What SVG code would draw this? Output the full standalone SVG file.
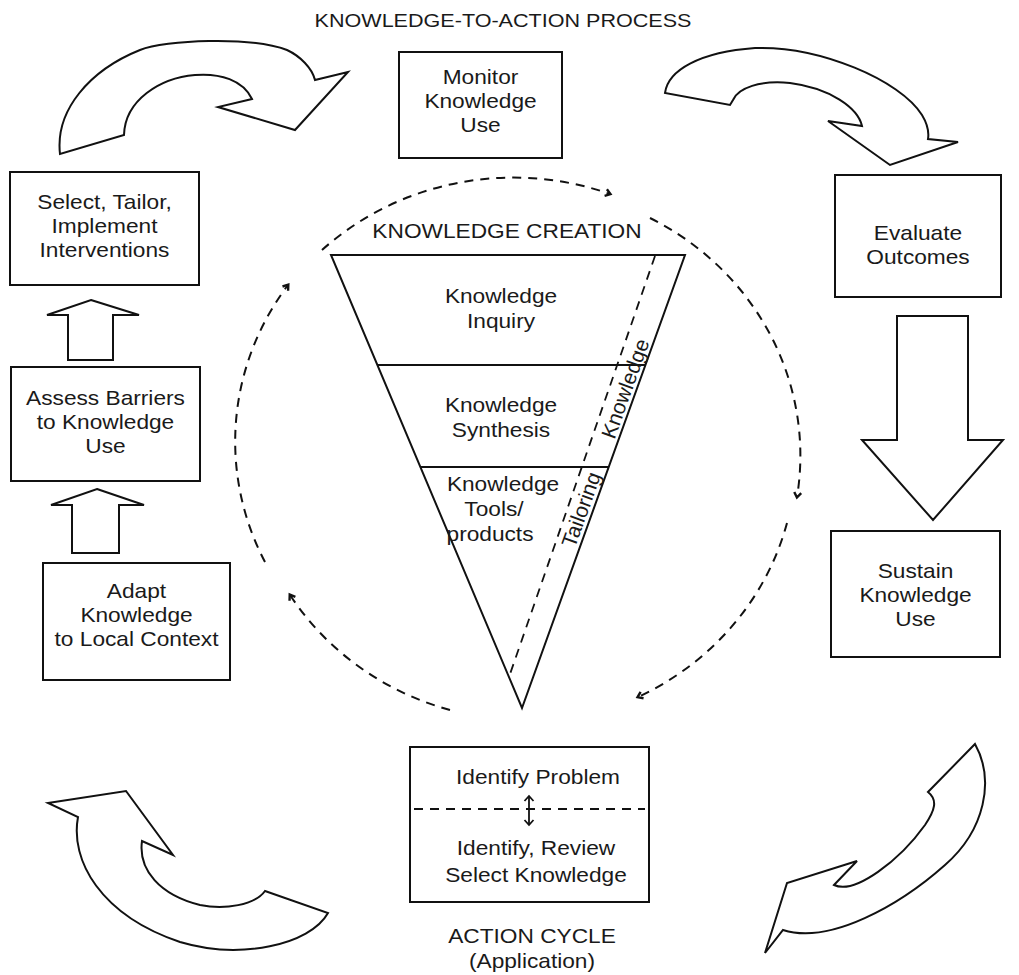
<svg xmlns="http://www.w3.org/2000/svg" width="1019" height="975" viewBox="0 0 1019 975">
<style>
.box{fill:#fff;stroke:#111;stroke-width:2}
.blk{fill:#fff;stroke:#111;stroke-width:2;stroke-linejoin:miter}
.t{font-family:"Liberation Sans",Arial,sans-serif;font-size:20px;fill:#1a1a1a;text-anchor:middle}
.dash{fill:none;stroke:#111;stroke-width:2;stroke-dasharray:9 7}
.ln{fill:none;stroke:#111;stroke-width:2}
</style>
<defs>
<marker id="ah" markerWidth="10" markerHeight="10" refX="6" refY="5" orient="auto" markerUnits="userSpaceOnUse">
<path d="M1.5,1.5 L6.5,5 L1.5,8.5" fill="none" stroke="#111" stroke-width="2.4"/>
</marker>
<marker id="dh" markerWidth="12" markerHeight="12" refX="6" refY="6" orient="auto-start-reverse" markerUnits="userSpaceOnUse">
<path d="M1,1.5 L6,6 L1,10.5" fill="none" stroke="#111" stroke-width="1.8"/>
</marker>
</defs>
<rect width="1019" height="975" fill="#fff"/>

<g transform="translate(503 0) scale(1.135 1)"><text class="t" y="27" style="font-size:19px">KNOWLEDGE-TO-ACTION PROCESS</text></g>

<g id="connectors">
<path class="blk" d="M 60 154 C 55 110 90 70 140 50 C 165 40 250 36 287 50 C 300 56 312 68 315 80 L 348 72 L 295 130 L 218 107 L 252 99 C 243 80 220 73 195 75 C 160 78 125 100 124 135 Z"/>
<path class="blk" d="M 665 93 C 668 70 700 52 755 48 C 820 46 900 80 922 115 C 928 125 929 133 928 139 L 958 142 L 890 165 L 828 121 L 862 126 C 858 108 830 88 790 83 C 760 80 738 88 733 100 L 730 105 Z"/>
<path class="blk" d="M 78 817 C 70 860 100 915 180 942 C 240 960 310 945 328 913 L 265 891 C 255 905 225 910 200 905 C 160 895 138 870 142 841 L 173 855 L 126 791 L 48 803 Z"/>
<path class="blk" d="M 975 744 C 995 780 985 830 945 865 C 900 905 830 945 783 930 L 765 953 L 787 883 L 857 861 L 834 885 C 855 895 900 860 925 825 C 935 810 938 800 928 792 Z"/>
<polygon class="blk" points="897,316 968,316 968,440 1003,440 933,520 862,440 897,440"/>
<polygon class="blk" points="91,300 139,315 113,315 113,360 68,360 68,315 47,315"/>
<polygon class="blk" points="97,489 144,505 119,505 119,553 72,553 72,505 51,505"/>
<path class="dash" d="M 322 250 A 280 268 0 0 1 610 194" marker-end="url(#ah)"/>
<path class="dash" d="M 650 218 A 280 268 0 0 1 797 497" marker-end="url(#ah)"/>
<path class="dash" d="M 787 523 A 280 268 0 0 1 638 697" marker-end="url(#ah)"/>
<path class="dash" d="M 450 710 A 280 268 0 0 1 290 595" marker-end="url(#ah)"/>
<path class="dash" d="M 265 562 A 280 268 0 0 1 288 285" marker-end="url(#ah)"/>
</g>

<g id="monitor">
<rect class="box" x="399" y="52" width="163" height="106"/>
<g transform="translate(480.5 0) scale(1.135 1)"><text class="t" y="84">Monitor</text><text class="t" y="108">Knowledge</text><text class="t" y="132">Use</text></g>
</g>

<g id="evaluate">
<rect class="box" x="835" y="175" width="166" height="122"/>
<g transform="translate(918 0) scale(1.135 1)"><text class="t" y="240">Evaluate</text><text class="t" y="264">Outcomes</text></g>
</g>

<g id="sustain">
<rect class="box" x="831" y="531" width="169" height="126"/>
<g transform="translate(915.5 0) scale(1.135 1)"><text class="t" y="578">Sustain</text><text class="t" y="602">Knowledge</text><text class="t" y="626">Use</text></g>
</g>

<g id="select">
<rect class="box" x="10" y="172" width="189" height="113"/>
<g transform="translate(104.5 0) scale(1.135 1)"><text class="t" y="209">Select, Tailor,</text><text class="t" y="233">Implement</text><text class="t" y="257">Interventions</text></g>
</g>

<g id="assess">
<rect class="box" x="11" y="367" width="189" height="114"/>
<g transform="translate(105.5 0) scale(1.135 1)"><text class="t" y="405">Assess Barriers</text><text class="t" y="429">to Knowledge</text><text class="t" y="453">Use</text></g>
</g>

<g id="adapt">
<rect class="box" x="43" y="563" width="187" height="117"/>
<g transform="translate(136.5 0) scale(1.135 1)"><text class="t" y="598">Adapt</text><text class="t" y="622">Knowledge</text><text class="t" y="646">to Local Context</text></g>
</g>

<g id="identify">
<rect class="box" x="410" y="747" width="239" height="155"/>
<line x1="414" y1="809" x2="645" y2="809" class="ln" style="stroke-dasharray:9 7"/>
<line x1="529" y1="796" x2="529" y2="825" class="ln" style="stroke-width:1.8" marker-start="url(#dh)" marker-end="url(#dh)"/>
<g transform="translate(538 0) scale(1.135 1)"><text class="t" y="784">Identify Problem</text></g>
<g transform="translate(536 0) scale(1.135 1)"><text class="t" y="855">Identify, Review</text><text class="t" y="882">Select Knowledge</text></g>
</g>

<g id="action-cycle">
<g transform="translate(532 0) scale(1.135 1)"><text class="t" y="943">ACTION CYCLE</text><text class="t" y="968">(Application)</text></g>
</g>

<g id="knowledge-creation">
<g transform="translate(507 0) scale(1.135 1)"><text class="t" y="238">KNOWLEDGE CREATION</text></g>
<polygon points="331,255 685,255 522,708" style="fill:#fff;stroke:#111;stroke-width:2;stroke-linejoin:miter"/>
<line class="ln" x1="377" y1="365" x2="645" y2="365"/>
<line class="ln" x1="420" y1="467" x2="609" y2="467"/>
<line class="ln" x1="655" y1="256" x2="509" y2="677" style="stroke-dasharray:9 7;stroke-width:1.8"/>
<g transform="translate(501 0) scale(1.135 1)"><text class="t" y="303">Knowledge</text><text class="t" y="328">Inquiry</text><text class="t" y="412">Knowledge</text><text class="t" y="437">Synthesis</text></g>
<g transform="translate(503 0) scale(1.135 1)"><text class="t" y="491">Knowledge</text></g>
<g transform="translate(494 0) scale(1.135 1)"><text class="t" y="516">Tools/</text></g>
<g transform="translate(490 0) scale(1.135 1)"><text class="t" y="541">products</text></g>
<text class="t" style="font-size:21px" transform="translate(632 391) rotate(-70.2)">Knowledge</text>
<text class="t" style="font-size:21px" transform="translate(588 512) rotate(-70.2)">Tailoring</text>
</g>
</svg>
